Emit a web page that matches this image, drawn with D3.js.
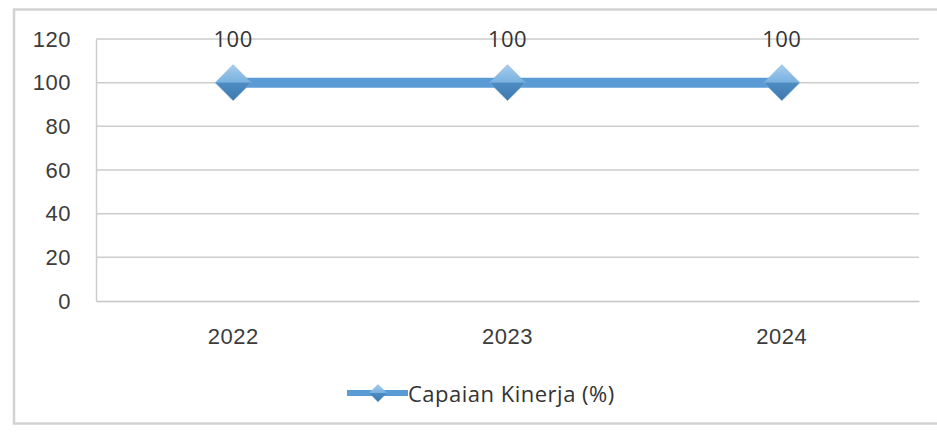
<!DOCTYPE html>
<html>
<head>
<meta charset="utf-8">
<script src="https://cdn.jsdelivr.net/npm/d3@7"></script>
<style>
  html, body { margin: 0; padding: 0; background: #fff; }
  svg { display: block; font-family: "Open Sans", "Noto Sans", sans-serif; letter-spacing: 0.5px; }
</style>
</head>
<body>
<svg id="chart" width="937" height="432"></svg>
<script>
// Chart data
const years = ["2022", "2023", "2024"];
const capaian = [100, 100, 100];
const yTicks = [0, 20, 40, 60, 80, 100, 120];
const seriesName = "Capaian Kinerja (%)";

const svg = d3.select("#chart");
const W = 937, H = 432;
const margin = { left: 96, right: 18, top: 39, bottom: 131 };
const x0 = margin.left, x1 = W - margin.right;
const y0 = H - margin.bottom, y1 = margin.top;
const FS = 22;

// Outer chart frame
svg.append("rect")
  .attr("x", 14).attr("y", 9.5)
  .attr("width", 930).attr("height", 414)
  .attr("fill", "#fff")
  .attr("stroke", "#d2d2d2").attr("stroke-width", 2.5);

const x = d3.scaleBand().domain(years).range([x0, x1]);
const y = d3.scaleLinear().domain([0, 120]).range([y0, y1]);

// Two-tone gradient for the diamond markers
const defs = svg.append("defs");
const grad = defs.append("linearGradient")
  .attr("id", "mk").attr("x1", 0).attr("y1", 0).attr("x2", 0).attr("y2", 1);
grad.append("stop").attr("offset", "0%").attr("stop-color", "#a9cdec");
grad.append("stop").attr("offset", "48%").attr("stop-color", "#79b2e0");
grad.append("stop").attr("offset", "52%").attr("stop-color", "#4d8bc2");
grad.append("stop").attr("offset", "100%").attr("stop-color", "#3e79ad");

// Horizontal gridlines
svg.append("g").selectAll("line")
  .data(yTicks.filter(d => d > 0))
  .join("line")
  .attr("x1", x0).attr("x2", x1)
  .attr("y1", d => y(d)).attr("y2", d => y(d))
  .attr("stroke", "#cdcdcd").attr("stroke-width", 1.5);

// Y axis
const yAxis = svg.append("g")
  .attr("transform", `translate(${x0},0)`)
  .call(d3.axisLeft(y).tickValues(yTicks).tickSize(0).tickPadding(25));
yAxis.select(".domain").attr("stroke", "#cdcdcd").attr("stroke-width", 1.5);
yAxis.selectAll("text").attr("font-size", FS).attr("fill", "#3c3c3c");

// X axis
const xAxis = svg.append("g")
  .attr("transform", `translate(0,${y0})`)
  .call(d3.axisBottom(x).tickSize(0).tickPadding(27));
xAxis.select(".domain").attr("stroke", "#c4c4c4").attr("stroke-width", 1.5);
xAxis.selectAll("text").attr("font-size", FS).attr("fill", "#3c3c3c");

// Series line
const pts = years.map((yr, i) => ({ yr, v: capaian[i] }));
const line = d3.line().x(d => x(d.yr) + x.bandwidth() / 2).y(d => y(d.v));
svg.append("path")
  .datum(pts)
  .attr("d", line)
  .attr("fill", "none")
  .attr("stroke", "#5b9bd5")
  .attr("stroke-width", 10);

// Diamond markers
const diamond = s => `M0,${-s}L${s},0L0,${s}L${-s},0Z`;
svg.append("g").selectAll("path")
  .data(pts)
  .join("path")
  .attr("transform", d => `translate(${x(d.yr) + x.bandwidth() / 2},${y(d.v)})`)
  .attr("d", diamond(18))
  .attr("fill", "url(#mk)")
  .attr("stroke", "#7fb2de").attr("stroke-width", 0.6);

// Value labels
svg.append("g").selectAll("text")
  .data(pts)
  .join("text")
  .attr("x", d => x(d.yr) + x.bandwidth() / 2)
  .attr("y", d => y(d.v) - 36)
  .attr("text-anchor", "middle")
  .attr("font-size", FS)
  .attr("fill", "#333")
  .text(d => d.v);

// Legend
const lg = svg.append("g").attr("transform", "translate(347,393)");
lg.append("line")
  .attr("x1", 0).attr("x2", 61).attr("y1", 0).attr("y2", 0)
  .attr("stroke", "#5b9bd5").attr("stroke-width", 6);
lg.append("path")
  .attr("transform", "translate(31,0)")
  .attr("d", diamond(9))
  .attr("fill", "url(#mk)");
lg.append("text")
  .attr("x", 61).attr("y", 9)
  .attr("font-size", FS)
  .attr("fill", "#333")
  .text(seriesName);
</script>
</body>
</html>
